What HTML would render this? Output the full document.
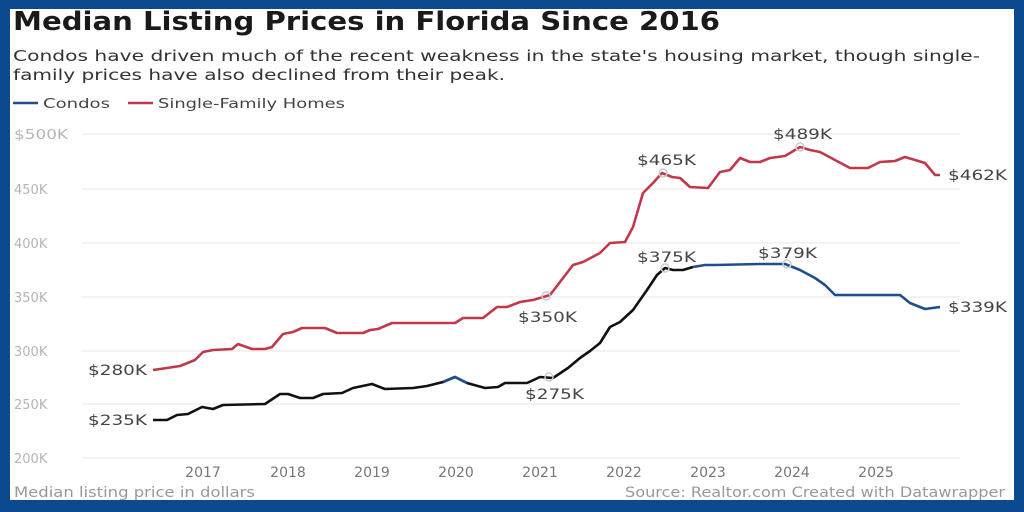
<!DOCTYPE html>
<html><head><meta charset="utf-8"><style>
html,body{margin:0;padding:0;}
body{width:1024px;height:512px;background:#0b4a8e;position:relative;overflow:hidden;font-family:"DejaVu Sans",sans-serif;}
#w{position:absolute;left:10px;top:9px;width:1004px;height:491px;background:#fff;}
</style></head><body>
<div id="w"></div>
<svg width="1024" height="512" style="position:absolute;left:0;top:0" font-family="DejaVu Sans, sans-serif">
<text x="13" y="30" font-size="26" font-weight="bold" fill="#1a1a1a" textLength="707" lengthAdjust="spacingAndGlyphs">Median Listing Prices in Florida Since 2016</text>
<text x="13" y="61" font-size="15" fill="#333" textLength="967" lengthAdjust="spacingAndGlyphs">Condos have driven much of the recent weakness in the state's housing market, though single-</text>
<text x="13" y="80" font-size="15" fill="#333" textLength="492" lengthAdjust="spacingAndGlyphs">family prices have also declined from their peak.</text>
<line x1="13" y1="103" x2="38" y2="103" stroke="#1f4e8c" stroke-width="2.5"/>
<text x="43" y="108" font-size="13" fill="#444" textLength="67" lengthAdjust="spacingAndGlyphs">Condos</text>
<line x1="128" y1="103" x2="153" y2="103" stroke="#c0394b" stroke-width="2.5"/>
<text x="158" y="108" font-size="13" fill="#444" textLength="187" lengthAdjust="spacingAndGlyphs">Single-Family Homes</text>
<g stroke="#ececec" stroke-width="1.2">
<line x1="82" y1="134" x2="960" y2="134"/><line x1="82" y1="189" x2="960" y2="189"/>
<line x1="82" y1="243" x2="960" y2="243"/><line x1="82" y1="297" x2="960" y2="297"/>
<line x1="82" y1="351" x2="960" y2="351"/><line x1="82" y1="404" x2="960" y2="404"/>
<line x1="82" y1="458" x2="960" y2="458"/></g>
<g font-size="13" fill="#b5b5b5">
<text x="14" y="139" textLength="54" lengthAdjust="spacingAndGlyphs">$500K</text><text x="14" y="194">450K</text><text x="14" y="248">400K</text>
<text x="14" y="302">350K</text><text x="14" y="356">300K</text><text x="14" y="409">250K</text><text x="14" y="463">200K</text></g>
<g font-size="14" fill="#777" text-anchor="middle">
<text x="203" y="477">2017</text><text x="288" y="477">2018</text><text x="372" y="477">2019</text>
<text x="456" y="477">2020</text><text x="540" y="477">2021</text><text x="624" y="477">2022</text>
<text x="708" y="477">2023</text><text x="792" y="477">2024</text><text x="876" y="477">2025</text></g>
<text x="14" y="497" font-size="14" fill="#999" textLength="241" lengthAdjust="spacingAndGlyphs">Median listing price in dollars</text>
<text x="625" y="497" font-size="14" fill="#999" textLength="380" lengthAdjust="spacingAndGlyphs">Source: Realtor.com Created with Datawrapper</text>
<polyline fill="none" stroke="#c0394b" stroke-width="2.6" stroke-linejoin="round" points="153,370 167,368 180,366 190,362 195,360 203,352 213,350 232,349 238,344 252,349 265,349 272,347 283,334 293,332 302,328 325,328 337,333 363,333 370,330 378,329 392,323 455,323 463,318 483,318 497,307 507,307 520,302 533,300 550,295 560,282 573,265 583,262 600,253 610,243 625,242 633,227 643,193 653,183 662,173 672,177 680,178 690,187 708,188 720,172 730,170 740,158 750,162 760,162 770,158 785,156 800,147 810,150 820,152 835,160 850,168 868,168 880,162 895,161 905,157 915,160 925,163 935,175 940,175"/>
<polyline fill="none" stroke="#111" stroke-width="2.6" stroke-linejoin="round" points="153,420 167,420 177,415 188,414 202,407 213,409 223,405 265,404 280,394 288,394 300,398 313,398 323,394 342,393 353,388 372,384 385,389 413,388 427,386 443,382 455,377 467,383 485,388 498,387 505,383 527,383 540,377 553,378 568,368 580,358 590,351 600,343 610,327 620,322 633,310 647,290 657,275 665,268 673,270 683,270 693,267"/>
<polyline fill="none" stroke="#1f4e8c" stroke-width="2.6" stroke-linejoin="round" points="443,382 455,377 467,383"/>
<polyline fill="none" stroke="#1f4e8c" stroke-width="2.6" stroke-linejoin="round" points="693,267 705,265 715,265 760,264 785,264 800,270 815,278 825,285 835,295 900,295 910,303 925,309 940,307"/>
<g fill="none" stroke="#ccc" stroke-width="1.5">
<circle cx="663" cy="173" r="4"/><circle cx="800" cy="147" r="4"/><circle cx="546" cy="296" r="4"/>
<circle cx="665" cy="268" r="4"/><circle cx="787" cy="264" r="4"/><circle cx="549" cy="377" r="4"/></g>
<g font-size="14" fill="#444">
<text x="88" y="375" textLength="59" lengthAdjust="spacingAndGlyphs">$280K</text><text x="88" y="425" textLength="59" lengthAdjust="spacingAndGlyphs">$235K</text>
<text x="518" y="322" textLength="59" lengthAdjust="spacingAndGlyphs">$350K</text><text x="525" y="399" textLength="59" lengthAdjust="spacingAndGlyphs">$275K</text>
<text x="637" y="165" textLength="59" lengthAdjust="spacingAndGlyphs">$465K</text><text x="637" y="262" textLength="59" lengthAdjust="spacingAndGlyphs">$375K</text>
<text x="773" y="139" textLength="59" lengthAdjust="spacingAndGlyphs">$489K</text><text x="758" y="258" textLength="59" lengthAdjust="spacingAndGlyphs">$379K</text>
<text x="948" y="180" textLength="59" lengthAdjust="spacingAndGlyphs">$462K</text><text x="948" y="312" textLength="59" lengthAdjust="spacingAndGlyphs">$339K</text></g>
</svg>
</body></html>
